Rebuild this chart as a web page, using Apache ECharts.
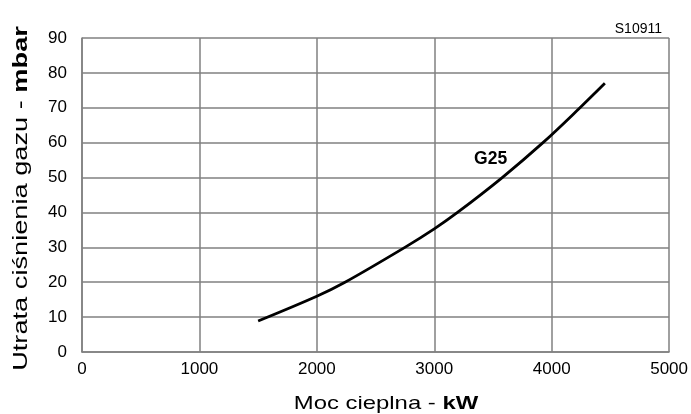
<!DOCTYPE html>
<html lang="pl">
<head>
    <meta charset="UTF-8">
    <title>Utrata ciśnienia gazu</title>
    <script src="https://cdn.jsdelivr.net/npm/echarts@6/dist/echarts.min.js"></script>
    <style>
        html, body { margin: 0; padding: 0; background: #fff; }
        #chart { width: 691px; height: 414px; }
    </style>
</head>
<body>
<div id="chart"></div>
<script>
    // dane
    var powerKW = [1500, 2000, 2240, 2750, 3000, 3198, 3579, 3926, 4241, 4453];
    var lossMbar = [8.9, 16.0, 20, 30, 35.3, 40, 50, 60, 70, 77.0];
    var seriesName = 'G25';
    var chartCode = 'S10911';
    var xName = 'Moc cieplna - {b|kW}';
    var yName = 'Utrata ciśnienia gazu - {b|mbar}';

    var pts = [];
    for (var i = 0; i < powerKW.length; i++) {
        pts.push([powerKW[i], lossMbar[i]]);
    }

    var font = 'Liberation Sans, Arial, sans-serif';
    var gridColor = '#808080';

    var chart = echarts.init(document.getElementById('chart'));
    var option = {
        animation: false,
        backgroundColor: '#fff',
        title: {
            text: chartCode,
            right: 24,
            top: 17,
            textStyle: { fontFamily: font, fontSize: 14, fontWeight: 'normal', color: '#000' }
        },
        grid: { left: 82, right: 18, top: 38, bottom: 62 },
        // opisy osi - tekst w oryginale jest rozciagniety w poziomie
        graphic: [
            {
                type: 'text',
                x: 386, y: 404,
                scaleX: 1.29,
                style: {
                    text: xName,
                    fontFamily: font, fontSize: 18.5, fill: '#000',
                    align: 'center', verticalAlign: 'middle',
                    rich: { b: { fontFamily: font, fontSize: 18.5, fontWeight: 'bold', fill: '#000' } }
                }
            },
            {
                type: 'text',
                x: 21, y: 198.5,
                rotation: Math.PI / 2,
                scaleX: 1.36,
                style: {
                    text: yName,
                    fontFamily: font, fontSize: 20, fill: '#000',
                    align: 'center', verticalAlign: 'middle',
                    rich: { b: { fontFamily: font, fontSize: 20, fontWeight: 'bold', fill: '#000' } }
                }
            }
        ],
        xAxis: {
            type: 'value',
            min: 0, max: 5000, interval: 1000,
            axisLine: { lineStyle: { color: gridColor, width: 1.5 } },
            axisTick: { show: false },
            axisLabel: {
                fontFamily: font, fontSize: 17, color: '#000', margin: 9,
                formatter: function (v) { return String(v); }
            },
            splitLine: { lineStyle: { color: gridColor, width: 1.5 } }
        },
        yAxis: {
            type: 'value',
            min: 0, max: 90, interval: 10,
            axisLine: { show: true, lineStyle: { color: gridColor, width: 1.5 } },
            axisTick: { show: false },
            axisLabel: { fontFamily: font, fontSize: 17, color: '#000', margin: 15 },
            splitLine: { lineStyle: { color: gridColor, width: 1.5 } }
        },
        series: [{
            name: seriesName,
            type: 'line',
            data: pts,
            smooth: 0.35,
            showSymbol: false,
            lineStyle: { color: '#000', width: 2.8 },
            markPoint: {
                symbolSize: 0,
                data: [{ coord: [3480, 55.4] }],
                label: {
                    show: true,
                    position: 'inside',
                    formatter: seriesName,
                    fontFamily: font, fontSize: 17.5, fontWeight: 'bold', color: '#000'
                }
            }
        }]
    };
    chart.setOption(option);
</script>
</body>
</html>
